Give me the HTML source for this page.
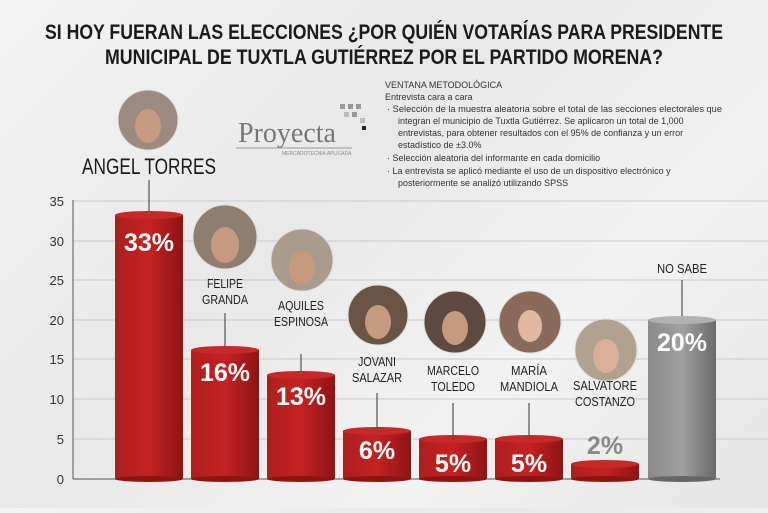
<!DOCTYPE html>
<html><head><meta charset="utf-8"><style>
html,body{margin:0;padding:0;}
body{width:768px;height:508px;overflow:hidden;background:linear-gradient(135deg,#f4f4f4 0%,#e8e8e8 40%,#f2f2f2 70%,#e4e4e4 100%);font-family:"Liberation Sans",sans-serif;}
</style></head><body>
<svg width="768" height="508" viewBox="0 0 768 508" xmlns="http://www.w3.org/2000/svg">
<defs>
<linearGradient id="red" x1="0" x2="1"><stop offset="0" stop-color="#b01e1e"/><stop offset="0.5" stop-color="#c42222"/><stop offset="1" stop-color="#8e1414"/></linearGradient>
<linearGradient id="gry" x1="0" x2="1"><stop offset="0" stop-color="#8a8a8a"/><stop offset="0.5" stop-color="#a0a0a0"/><stop offset="1" stop-color="#6a6a6a"/></linearGradient>
</defs>
<g font-weight="bold" fill="#1b1b1b" font-size="21">
<text x="45" y="39" textLength="678" lengthAdjust="spacingAndGlyphs">SI HOY FUERAN LAS ELECCIONES ¿POR QUIÉN VOTARÍAS PARA PRESIDENTE</text>
<text x="105" y="64" textLength="558" lengthAdjust="spacingAndGlyphs">MUNICIPAL DE TUXTLA GUTIÉRREZ POR EL PARTIDO MORENA?</text>
</g>
<!-- logo -->
<text x="238" y="142" font-family="Liberation Serif,serif" font-size="28" fill="#777">Proyecta</text>
<line x1="236" y1="148" x2="352" y2="148" stroke="#999"/>
<text x="282" y="155" font-size="5" fill="#888">MERCADOTECNIA APLICADA</text>
<g fill="#999"><rect x="340" y="104" width="5" height="5"/><rect x="348" y="104" width="5" height="5"/><rect x="356" y="104" width="5" height="5"/><rect x="344" y="112" width="5" height="5" fill="#bbb"/><rect x="352" y="112" width="5" height="5"/><rect x="360" y="118" width="5" height="5" fill="#bbb"/><rect x="362" y="126" width="4" height="4" fill="#223"/></g>
<g font-size="9" fill="#333">
<text x="385" y="88">VENTANA METODOLÓGICA</text>
<text x="385" y="100">Entrevista cara a cara</text>
<text x="387" y="112" textLength="335" lengthAdjust="spacingAndGlyphs">·  Selección de la muestra aleatoria sobre el total de las secciones electorales que</text>
<text x="398" y="124">integran el municipio de Tuxtla Gutiérrez. Se aplicaron un total de 1,000</text>
<text x="398" y="136">entrevistas, para obtener resultados con el 95% de confianza y un error</text>
<text x="398" y="148">estadístico de ±3.0%</text>
<text x="387" y="161">·  Selección aleatoria del informante en cada domicilio</text>
<text x="387" y="174">·  La entrevista se aplicó mediante el uso de un dispositivo electrónico y</text>
<text x="398" y="186">posteriormente se analizó utilizando SPSS</text>
</g>
<!-- grid -->
<g stroke="#c8c8c8" stroke-width="1">
<line x1="73" y1="201" x2="768" y2="201"/><line x1="73" y1="241" x2="768" y2="241"/><line x1="73" y1="280" x2="768" y2="280"/><line x1="73" y1="320" x2="768" y2="320"/><line x1="73" y1="359" x2="768" y2="359"/><line x1="73" y1="399" x2="768" y2="399"/><line x1="73" y1="439" x2="768" y2="439"/>
</g>
<line x1="73" y1="200" x2="73" y2="479" stroke="#555"/>
<line x1="73" y1="479" x2="720" y2="479" stroke="#555"/>
<g font-size="13" fill="#333" text-anchor="end">
<text x="64" y="206">35</text><text x="64" y="246">30</text><text x="64" y="285">25</text><text x="64" y="325">20</text><text x="64" y="364">15</text><text x="64" y="404">10</text><text x="64" y="444">5</text><text x="64" y="484">0</text>
</g>
<g stroke="#333" stroke-width="1">
<line x1="149" y1="180" x2="149" y2="214"/><line x1="225" y1="313" x2="225" y2="349"/><line x1="301" y1="354" x2="301" y2="374"/><line x1="377" y1="393" x2="377" y2="429"/><line x1="453" y1="403" x2="453" y2="437"/><line x1="529" y1="403" x2="529" y2="437"/><line x1="682" y1="280" x2="682" y2="318"/>
</g>
<g>
<rect x="115" y="215" width="68" height="264" fill="url(#red)"/><ellipse cx="149" cy="215" rx="34" ry="4" fill="#c82828"/><ellipse cx="149" cy="479" rx="34" ry="3" fill="#8e1414"/>
<rect x="191" y="350" width="68" height="129" fill="url(#red)"/><ellipse cx="225" cy="350" rx="34" ry="4" fill="#c82828"/><ellipse cx="225" cy="479" rx="34" ry="3" fill="#8e1414"/>
<rect x="267" y="375" width="68" height="104" fill="url(#red)"/><ellipse cx="301" cy="375" rx="34" ry="4" fill="#c82828"/><ellipse cx="301" cy="479" rx="34" ry="3" fill="#8e1414"/>
<rect x="343" y="431" width="68" height="48" fill="url(#red)"/><ellipse cx="377" cy="431" rx="34" ry="4" fill="#c82828"/><ellipse cx="377" cy="479" rx="34" ry="3" fill="#8e1414"/>
<rect x="419" y="439" width="68" height="40" fill="url(#red)"/><ellipse cx="453" cy="439" rx="34" ry="4" fill="#c82828"/><ellipse cx="453" cy="479" rx="34" ry="3" fill="#8e1414"/>
<rect x="495" y="439" width="68" height="40" fill="url(#red)"/><ellipse cx="529" cy="439" rx="34" ry="4" fill="#c82828"/><ellipse cx="529" cy="479" rx="34" ry="3" fill="#8e1414"/>
<rect x="571" y="464" width="68" height="15" fill="url(#red)"/><ellipse cx="605" cy="464" rx="34" ry="4" fill="#c82828"/><ellipse cx="605" cy="479" rx="34" ry="3" fill="#8e1414"/>
<rect x="648" y="320" width="68" height="159" fill="url(#gry)"/><ellipse cx="682" cy="320" rx="34" ry="4" fill="#b0b0b0"/><ellipse cx="682" cy="479" rx="34" ry="3" fill="#666"/>
</g>
<g font-size="25" font-weight="bold" fill="#fff" text-anchor="middle">
<text x="149" y="251">33%</text><text x="225" y="381">16%</text><text x="301" y="405">13%</text><text x="377" y="459">6%</text><text x="453" y="472">5%</text><text x="529" y="472">5%</text><text x="682" y="351">20%</text>
</g>
<text x="605" y="454" font-size="25" font-weight="bold" fill="#888" text-anchor="middle">2%</text>
<g stroke="#ddd" stroke-width="1">
<circle cx="148" cy="120" r="30" fill="#9a8a80"/><circle cx="225" cy="237" r="32" fill="#8f7e70"/><circle cx="302" cy="260" r="31" fill="#a89a8c"/><circle cx="378" cy="315" r="30" fill="#6a5446"/><circle cx="455" cy="322" r="31" fill="#5e4a40"/><circle cx="530" cy="322" r="31" fill="#8a6a5a"/><circle cx="606" cy="350" r="31" fill="#b0a090"/>
</g>
<g fill="#c69a80"><ellipse cx="148" cy="126" rx="13" ry="17"/><ellipse cx="225" cy="245" rx="14" ry="18"/><ellipse cx="302" cy="268" rx="13" ry="17"/><ellipse cx="378" cy="322" rx="13" ry="17"/><ellipse cx="455" cy="328" rx="13" ry="17"/><ellipse cx="530" cy="326" rx="12" ry="16" fill="#e0b8a0"/><ellipse cx="606" cy="356" rx="13" ry="17" fill="#d8b098"/></g>
<text x="82" y="174" font-size="22" fill="#1b1b1b" textLength="134" lengthAdjust="spacingAndGlyphs">ANGEL TORRES</text>
<g font-size="13" fill="#222" text-anchor="middle">
<text x="225" y="288" textLength="36" lengthAdjust="spacingAndGlyphs">FELIPE</text><text x="225" y="304" textLength="46" lengthAdjust="spacingAndGlyphs">GRANDA</text>
<text x="301" y="310" textLength="46" lengthAdjust="spacingAndGlyphs">AQUILES</text><text x="301" y="326" textLength="54" lengthAdjust="spacingAndGlyphs">ESPINOSA</text>
<text x="377" y="366" textLength="38" lengthAdjust="spacingAndGlyphs">JOVANI</text><text x="377" y="382" textLength="50" lengthAdjust="spacingAndGlyphs">SALAZAR</text>
<text x="453" y="375" textLength="52" lengthAdjust="spacingAndGlyphs">MARCELO</text><text x="453" y="391" textLength="44" lengthAdjust="spacingAndGlyphs">TOLEDO</text>
<text x="529" y="375" textLength="36" lengthAdjust="spacingAndGlyphs">MARÍA</text><text x="529" y="391" textLength="58" lengthAdjust="spacingAndGlyphs">MANDIOLA</text>
<text x="605" y="390" textLength="64" lengthAdjust="spacingAndGlyphs">SALVATORE</text><text x="605" y="406" textLength="60" lengthAdjust="spacingAndGlyphs">COSTANZO</text>
<text x="682" y="273" textLength="50" lengthAdjust="spacingAndGlyphs">NO SABE</text>
</g>
</svg>
</body></html>
